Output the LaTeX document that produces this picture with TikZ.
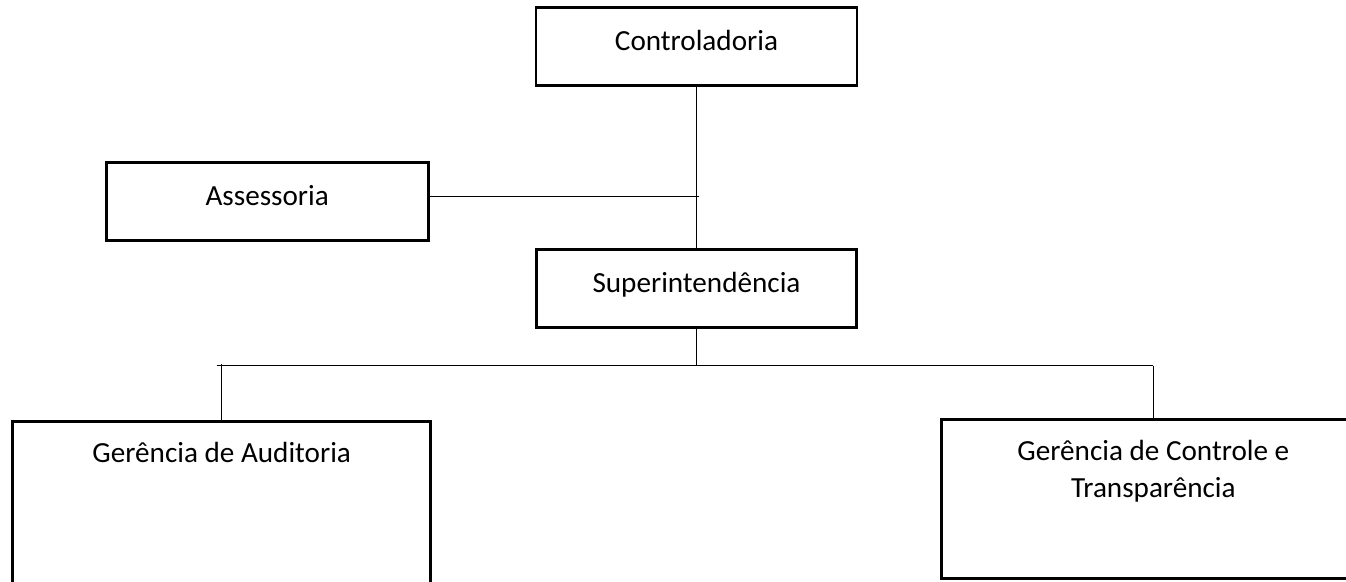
\documentclass[tikz,border=0pt]{standalone}
\usepackage{fontspec}
\setmainfont{Carlito}
\usetikzlibrary{positioning}
\tikzset{
    orgbox/.style={
        draw=black,
        rectangle,
        line width=1.6pt,
        inner sep=0pt,
        align=center,
        text height=0.86cm,
        text depth=0.7cm,
        font=\fontsize{16.6}{21}\selectfont
    },
    link/.style={
        line width=0.85pt,
        color=black
    }
}

\begin{document}
\begin{tikzpicture}
    \path[use as bounding box, clip] (0,0) rectangle (26.92,-11.64);

    % Top level - Controladoria
    \node[orgbox, minimum width=6.42cm] (ctrl) at (13.93,-0.93) {Controladoria};

    % Advisory - Assessoria
    \node[orgbox, minimum width=6.44cm, below left=1.48cm and 2.1cm of ctrl] (assess) {Assessoria};

    % Second level - Superintendencia
    \node[orgbox, minimum width=6.4cm, below=3.22cm of ctrl] (sup) {Superintendência};

    % Third level - Gerencias
    \node[orgbox, minimum width=8.36cm, text height=0.82cm, text depth=3.6cm, below left=1.82cm and 2.06cm of sup] (audit) {Gerência de Auditoria};
    \node[orgbox, minimum width=8.48cm, text height=1.56cm, text depth=1.62cm, below right=1.78cm and 1.64cm of sup] (transp) {Gerência de Controle e\\Transparência};

    \coordinate[below=0.74cm of sup] (bus);

    % Connections
    \draw[link] (ctrl.south) -- (sup.north);
    \draw[link] ([yshift=0.1cm]assess.east) -- ([yshift=0.1cm,xshift=0.04cm]assess.east -| ctrl.south);
    \draw[link] (sup.south) -- (bus);
    \draw[link] ([xshift=-0.1cm]audit.north |- bus) -- (transp.north |- bus);
    \draw[link] ([yshift=0.04cm]audit.north |- bus) -- (audit.north);
    \draw[link] (transp.north |- bus) -- (transp.north);
\end{tikzpicture}
\end{document}
